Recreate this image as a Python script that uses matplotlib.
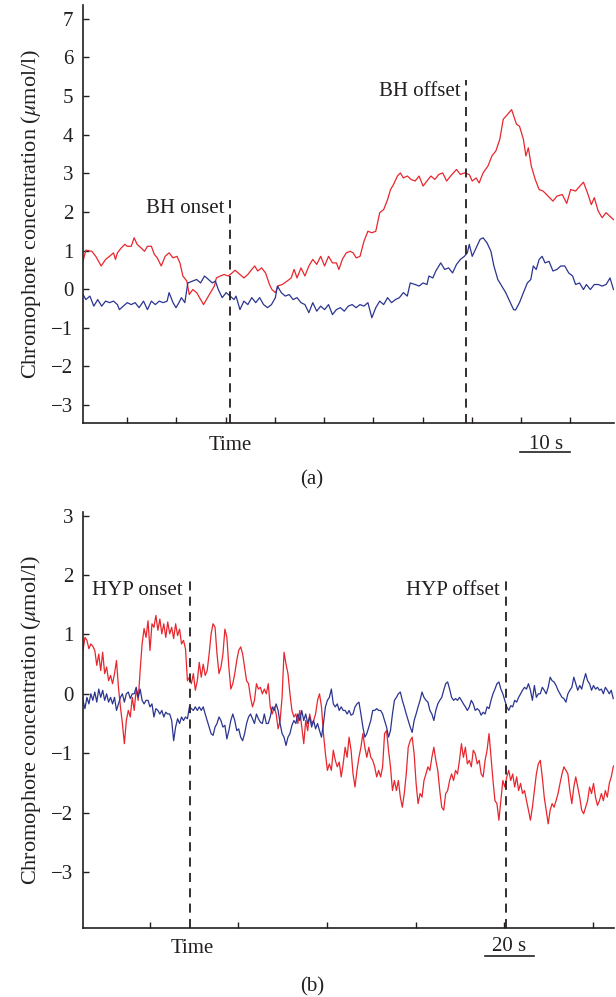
import numpy as np
import matplotlib
matplotlib.use("Agg")
import matplotlib.pyplot as plt

plt.rcParams['font.family'] = ['Liberation Serif', 'DejaVu Serif']
plt.rcParams['mathtext.fontset'] = 'stix'

# ---- panel (a): breath hold, (time s, umol/l) pairs
red_a = [(0, 0.73), (0.6, 1.01), (1.8, 0.98), (2.6, 0.85), (3.7, 0.60), (4.6, 0.77), (5.4, 0.85),
         (6.2, 0.94), (6.6, 0.77), (7.0, 0.94), (7.8, 1.07), (8.5, 1.16), (9.0, 1.11), (9.8, 1.11),
         (10.4, 1.33), (11.0, 1.16), (11.8, 1.07), (12.5, 0.98), (13.1, 1.11), (13.9, 1.11),
         (14.5, 0.90), (15.1, 0.81), (15.9, 0.60), (16.7, 0.85), (17.5, 0.94), (18.3, 0.81),
         (19.1, 0.85), (19.7, 0.68), (20.3, 0.34), (21.1, 0.21), (21.6, -0.14), (22.3, -0.01),
         (23.1, -0.09), (23.9, -0.27), (24.5, -0.40), (25.3, -0.22), (25.9, -0.09), (26.7, 0.08),
         (27.1, 0.29), (27.9, 0.34), (28.7, 0.38), (29.5, 0.34), (30.3, 0.42), (30.9, 0.49),
         (31.9, 0.38), (32.7, 0.29), (33.5, 0.38), (34.3, 0.51), (34.9, 0.60), (35.5, 0.47),
         (36.3, 0.55), (37.1, 0.42), (37.9, 0.12), (38.4, -0.01), (39.1, -0.09), (39.7, 0.09),
         (40.5, 0.12), (41.5, 0.21), (42.3, 0.29), (42.9, 0.51), (43.5, 0.29), (44.3, 0.55),
         (45.1, 0.34), (45.9, 0.60), (46.7, 0.77), (47.5, 0.64), (48.3, 0.85), (49.1, 0.60),
         (49.9, 0.85), (50.7, 0.68), (51.5, 0.68), (52.0, 0.51), (52.7, 0.77), (53.5, 0.94),
         (54.3, 0.98), (54.9, 0.94), (55.5, 0.81), (56.3, 0.85), (57.1, 1.24), (57.9, 1.50),
         (58.7, 1.46), (59.5, 1.50), (60.3, 1.98), (61.1, 2.06), (61.9, 2.32), (62.5, 2.58),
         (63.1, 2.71), (63.9, 2.93), (64.5, 3.01), (65.1, 2.88), (65.9, 2.93), (66.7, 2.84),
         (67.5, 2.80), (68.3, 2.93), (69.1, 2.67), (69.9, 2.80), (70.7, 2.93), (71.5, 2.84),
         (72.3, 2.97), (73.1, 3.01), (73.9, 2.80), (74.7, 2.93), (75.9, 3.10), (76.7, 2.97),
         (77.5, 3.01), (78.5, 2.97), (79.1, 2.80), (79.9, 2.88), (80.5, 2.75), (81.3, 3.01),
         (82.3, 3.19), (83.1, 3.45), (83.9, 3.58), (84.7, 3.88), (85.4, 4.40), (86.3, 4.53),
         (87.1, 4.65), (88.1, 4.27), (88.7, 4.22), (89.5, 3.88), (90.0, 3.45), (90.5, 3.66),
         (91.1, 3.19), (91.9, 2.84), (92.7, 2.58), (93.5, 2.54), (94.5, 2.41), (95.5, 2.28),
         (96.3, 2.41), (97.4, 2.45), (98.3, 2.22), (99.1, 2.58), (100.1, 2.54), (100.7, 2.63),
         (101.7, 2.77), (102.5, 2.50), (103.3, 2.19), (103.9, 2.37), (104.7, 2.02), (105.5, 1.85),
         (106.3, 1.98), (107.8, 1.80)]

blue_a = [(0, -0.14), (0.6, -0.27), (1.4, -0.18), (2.2, -0.44), (3.0, -0.27), (3.8, -0.44),
          (4.6, -0.31), (5.4, -0.35), (6.2, -0.31), (7.0, -0.40), (7.4, -0.53), (8.2, -0.44),
          (9.0, -0.35), (9.8, -0.40), (10.6, -0.35), (11.4, -0.48), (12.3, -0.31), (13.1, -0.53),
          (13.9, -0.31), (14.7, -0.40), (15.5, -0.31), (16.3, -0.35), (17.1, -0.31), (17.5, -0.09),
          (18.3, -0.35), (18.9, -0.48), (19.5, -0.35), (20.0, -0.22), (20.7, -0.35), (21.3, 0.16),
          (22.3, 0.21), (23.1, 0.25), (23.9, 0.16), (24.7, 0.34), (25.5, 0.25), (26.3, 0.16),
          (26.9, 0.21), (27.5, -0.01), (28.3, -0.22), (29.1, -0.09), (29.9, -0.18), (30.7, -0.27),
          (31.1, -0.18), (31.9, -0.53), (32.7, -0.31), (33.5, -0.40), (34.3, -0.22), (35.1, -0.35),
          (35.9, -0.22), (36.7, -0.40), (37.5, -0.48), (38.3, -0.40), (39.1, -0.22), (39.5, 0.08),
          (40.3, -0.09), (41.1, -0.18), (41.9, -0.14), (42.7, -0.27), (43.5, -0.22), (44.3, -0.35),
          (45.1, -0.40), (45.9, -0.61), (46.7, -0.35), (47.5, -0.57), (48.3, -0.44), (49.1, -0.53),
          (49.9, -0.40), (50.7, -0.66), (51.5, -0.53), (52.3, -0.48), (53.1, -0.57), (53.9, -0.44),
          (54.7, -0.40), (55.5, -0.48), (56.3, -0.40), (57.1, -0.44), (57.9, -0.35), (58.7, -0.74),
          (59.5, -0.48), (60.3, -0.31), (61.1, -0.40), (61.9, -0.22), (62.7, -0.35), (63.5, -0.27),
          (64.3, -0.22), (65.1, -0.09), (65.9, -0.18), (66.5, 0.16), (67.5, 0.12), (68.3, 0.08),
          (69.1, 0.16), (69.9, 0.12), (70.3, 0.34), (71.1, 0.29), (71.7, 0.47), (72.7, 0.68),
          (73.5, 0.51), (74.3, 0.55), (75.1, 0.42), (75.9, 0.64), (76.7, 0.77), (77.5, 0.85),
          (78.1, 0.94), (78.5, 1.16), (79.1, 0.85), (79.9, 1.07), (80.7, 1.29), (81.3, 1.33),
          (82.1, 1.20), (82.9, 0.98), (83.5, 0.60), (84.3, 0.25), (85.1, 0.08), (85.9, -0.09),
          (86.7, -0.31), (87.5, -0.53), (87.9, -0.54), (88.7, -0.35), (89.5, -0.09), (90.3, 0.16),
          (91.0, 0.25), (91.5, 0.60), (92.1, 0.51), (92.7, 0.77), (93.3, 0.85), (93.9, 0.68),
          (94.7, 0.72), (95.5, 0.47), (96.3, 0.51), (97.1, 0.60), (97.9, 0.60), (98.7, 0.42),
          (99.5, 0.34), (100.1, 0.12), (100.9, 0.16), (101.7, -0.01), (102.3, 0.12), (103.1, -0.01),
          (103.9, 0.12), (104.7, 0.12), (105.5, 0.08), (106.3, 0.12), (107.1, 0.29), (107.8, -0.01)]

bh_onset, bh_offset = 29.9, 77.9

# ---- panel (b): hypercapnia, sampled every DT_B seconds
DT_B = 0.8
red_b = [0.73, 0.95, 0.90, 0.76, 0.84, 0.80, 0.73,
         0.48, 0.67, 0.39, 0.70, 0.34, 0.45, 0.22, 0.31, 0.17, 0.34, 0.56, 0.11, -0.22, -0.50,
         -0.84, -0.45, -0.28, -0.39, -0.06, -0.28, 0.08, -0.11, 0.39, 0.84, 1.10, 0.95, 1.23, 0.73,
         1.18, 1.12, 1.32, 1.07, 1.26, 1.01, 1.18, 0.95, 1.21, 1.01, 1.12, 0.93, 1.18, 0.98, 1.09,
         0.84, 0.90, 0.76, 0.22, 0.28, 0.17, 0.34, 0.06, 0.22, 0.53, 0.28, 0.50, 0.31, 0.39, 0.67,
         1.01, 1.18, 1.12, 0.67, 0.34, 0.45, 0.67, 1.09, 0.95, 0.45, 0.08, 0.17, 0.34, 0.56, 0.73,
         0.79, 0.67, 0.45, 0.22, 0.17, -0.06, -0.22, -0.11, 0.17, 0.08, 0.11, 0.0, 0.08, 0.0, 0.17,
         -0.22, -0.34, -0.22, -0.34, -0.59, -0.45, -0.06, 0.70, 0.50, 0.34, 0.0, -0.28, -0.39, -0.34,
         -0.50, -0.28, -0.56, -0.84, -0.45, -0.62, -0.34, -0.50, -0.45, -0.34, -0.11, 0.0, -0.22,
         -0.67, -1.01, -1.29, -1.18, -1.29, -0.95, -1.12, -1.23, -1.15, -1.40, -1.18, -0.90, -1.07,
         -0.73, -0.95, -1.35, -1.57, -1.29, -1.07, -0.90, -0.67, -0.90, -1.07, -0.90, -1.07, -1.12,
         -1.23, -1.40, -1.29, -1.40, -1.23, -0.67, -0.62, -0.95, -1.23, -1.63, -1.46, -1.63, -1.46,
         -1.74, -1.91, -1.68, -1.35, -0.90, -0.79, -0.73, -1.01, -1.51, -1.85, -1.68, -1.74, -1.46,
         -1.35, -1.23, -1.29, -1.07, -0.90, -1.12, -1.29, -1.63, -1.91, -1.96, -1.68, -1.63, -1.46,
         -1.35, -1.46, -1.29, -1.35, -1.12, -0.84, -1.07, -0.90, -1.18, -1.12, -1.23, -0.95, -1.01,
         -1.18, -1.12, -1.35, -1.40, -1.12, -0.95, -0.67, -1.07, -1.46, -1.80, -1.85, -2.13, -1.80,
         -1.46, -1.57, -1.40, -1.29, -1.46, -1.35, -1.57, -1.40, -1.63, -1.51, -1.68, -1.63, -1.80,
         -1.96, -2.13, -1.91, -1.63, -1.35, -1.18, -1.12, -1.40, -1.74, -1.96, -2.19, -1.96, -1.85,
         -1.91, -1.80, -1.68, -1.51, -1.35, -1.23, -1.29, -1.35, -1.63, -1.85, -1.57, -1.40, -1.57,
         -1.74, -1.96, -2.02, -1.91, -1.80, -1.57, -1.68, -1.51, -1.74, -1.88, -1.80, -1.68, -1.80,
         -1.63, -1.74, -1.51, -1.40, -1.23, -1.18]

blue_b = [-0.11, -0.25, -0.06, -0.17, 0.0, -0.11, 0.03, -0.14, 0.08, -0.06, 0.06, -0.11, 0.0,
          -0.14, -0.06, -0.17, -0.06, -0.28, -0.17, -0.06, 0.0, -0.14, 0.0, 0.03, -0.08, 0.0, 0.0,
          0.11, -0.06, 0.08, -0.11, -0.17, -0.11, -0.11, -0.22, -0.17, -0.39, -0.25, -0.28, -0.34,
          -0.28, -0.39, -0.31, -0.34, -0.34, -0.45, -0.79, -0.56, -0.42, -0.50, -0.39, -0.45, -0.39,
          -0.42, -0.22, -0.25, -0.28, -0.22, -0.28, -0.22, -0.28, -0.22, -0.34, -0.45, -0.56, -0.67,
          -0.70, -0.56, -0.50, -0.39, -0.45, -0.56, -0.53, -0.76, -0.62, -0.45, -0.34, -0.45, -0.62,
          -0.59, -0.73, -0.79, -0.67, -0.50, -0.39, -0.34, -0.42, -0.50, -0.34, -0.42, -0.48, -0.50,
          -0.34, -0.50, -0.50, -0.39, -0.22, -0.28, -0.17, -0.28, -0.50, -0.67, -0.73, -0.87, -0.73,
          -0.67, -0.53, -0.45, -0.50, -0.34, -0.45, -0.28, -0.45, -0.34, -0.50, -0.39, -0.56, -0.45,
          -0.59, -0.50, -0.62, -0.73, -0.50, -0.22, -0.11, -0.06, 0.08, -0.17, -0.22, -0.17, -0.28,
          -0.22, -0.28, -0.28, -0.34, -0.28, -0.36, -0.34, -0.22, -0.17, -0.14, -0.34, -0.56, -0.73,
          -0.67, -0.56, -0.45, -0.28, -0.28, -0.25, -0.28, -0.28, -0.34, -0.45, -0.56, -0.73, -0.62,
          -0.34, -0.11, -0.06, 0.0, 0.03, -0.11, -0.22, -0.34, -0.45, -0.56, -0.65, -0.45, -0.34,
          -0.22, -0.11, 0.03, -0.06, -0.11, -0.14, -0.28, -0.34, -0.45, -0.28, -0.17, -0.11, -0.06,
          0.06, 0.17, 0.20, 0.08, -0.06, -0.11, -0.08, -0.11, -0.06, -0.11, -0.17, -0.22, -0.28,
          -0.22, -0.11, -0.17, -0.28, -0.25, -0.28, -0.36, -0.31, -0.34, -0.22, -0.25, -0.11, 0.0,
          0.08, 0.17, 0.20, 0.08, 0.0, -0.11, -0.22, -0.28, -0.20, -0.22, -0.11, -0.14, -0.06, 0.0,
          0.06, 0.11, 0.08, 0.17, 0.06, -0.11, 0.14, -0.06, 0.0, 0.0, 0.11, 0.06, 0.0, 0.11, 0.28,
          0.22, 0.20, 0.14, 0.06, 0.0, -0.06, -0.08, -0.14, 0.0, 0.06, 0.11, 0.28, 0.17, 0.06, 0.14,
          0.08, 0.22, 0.34, 0.22, 0.17, 0.06, 0.14, 0.08, 0.11, 0.06, 0.08, 0.0, 0.11, 0.06, 0.0,
          0.06, -0.08]

hyp_onset, hyp_offset = 43.3, 171.8

RED = '#e8262d'
BLUE = '#2b3590'
INK = '#231f20'
FS = 15
DASH = (0, (5, 3.5))

fig = plt.figure(figsize=(6.16, 9.97), dpi=100)
axA = fig.add_axes([0.1347, 0.576, 0.862, 0.419])
axB = fig.add_axes([0.1347, 0.0689, 0.862, 0.418])


def style(ax):
    for s in ['top', 'right']:
        ax.spines[s].set_visible(False)
    for s in ['left', 'bottom']:
        ax.spines[s].set_linewidth(1.2)
        ax.spines[s].set_color(INK)
    ax.tick_params(direction='in', length=4, width=1, color=INK, labelcolor=INK,
                   labelsize=FS, pad=7)
    ax.set_xticklabels([])
    ax.set_ylabel('Chromophore concentration ($\\mu$mol/l)', fontsize=16, color=INK, labelpad=6)


# panel (a)
t, v = zip(*red_a)
axA.plot(t, v, color=RED, lw=0.9)
t, v = zip(*blue_a)
axA.plot(t, v, color=BLUE, lw=0.9)
axA.set_xlim(0, 107.9)
axA.set_ylim(-3.46, 7.36)
axA.set_yticks(range(-3, 8))
axA.set_xticks(np.arange(9, 100, 10))
style(axA)
axA.vlines([bh_onset], -3.46, 2.32, colors=INK, linestyles=DASH, linewidth=1.3)
axA.vlines([bh_offset], -3.46, 5.41, colors=INK, linestyles=DASH, linewidth=1.3)
axA.text(bh_onset - 1.1, 2.1, 'BH onset', ha='right', va='center', fontsize=FS, color=INK)
axA.text(bh_offset - 1.2, 5.13, 'BH offset', ha='right', va='center', fontsize=FS, color=INK)
axA.text(bh_onset, -4.17, 'Time', ha='center', va='baseline', fontsize=FS, color=INK, clip_on=False)
axA.text(94.1, -4.14, '10 s', ha='center', va='baseline', fontsize=FS, color=INK, clip_on=False)
axA.plot([88.9, 98.9], [-4.23, -4.23], color=INK, lw=1.2, clip_on=False)

# panel (b)
tb = np.arange(len(red_b)) * DT_B
axB.plot(tb, red_b, color=RED, lw=0.9)
tb = np.arange(len(blue_b)) * DT_B
axB.plot(tb, blue_b, color=BLUE, lw=0.9)
axB.set_xlim(0, 215.5)
axB.set_ylim(-3.95, 3.07)
axB.set_yticks(range(-3, 4))
axB.set_xticks(np.arange(27, 210, 36))
style(axB)
axB.vlines([hyp_onset], -3.95, 1.93, colors=INK, linestyles=DASH, linewidth=1.3)
axB.vlines([hyp_offset], -3.95, 1.99, colors=INK, linestyles=DASH, linewidth=1.3)
axB.text(hyp_onset - 3.0, 1.74, 'HYP onset', ha='right', va='center', fontsize=FS, color=INK)
axB.text(hyp_offset - 2.5, 1.74, 'HYP offset', ha='right', va='center', fontsize=FS, color=INK)
axB.text(44.4, -4.37, 'Time', ha='center', va='baseline', fontsize=FS, color=INK, clip_on=False)
axB.text(173.1, -4.33, '20 s', ha='center', va='baseline', fontsize=FS, color=INK, clip_on=False)
axB.plot([163.2, 183.0], [-4.41, -4.41], color=INK, lw=1.2, clip_on=False)

fig.text(0.506, 0.5186, '(a)', ha='center', va='center', fontsize=FS, color=INK)
fig.text(0.506, 0.0103, '(b)', ha='center', va='center', fontsize=FS, color=INK)

fig.savefig('out.png', dpi=100)
